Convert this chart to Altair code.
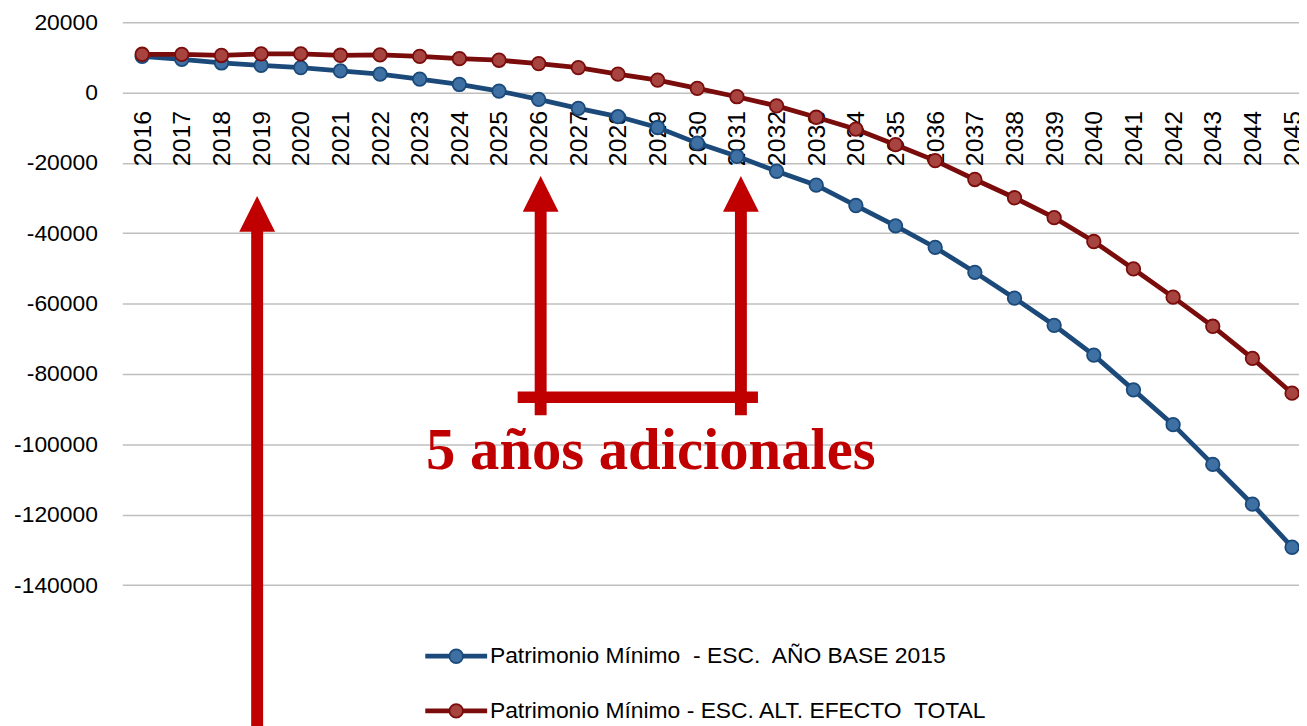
import altair as alt
import pandas as pd

# ---------------- data ----------------
years = list(range(2016, 2046))
base_2015 = [10250, 9400, 8400, 7700, 7100, 6160, 5220, 3810, 2290, 420,
             -1950, -4490, -6830, -9940, -14380, -18130, -22370, -26320, -32110, -37900,
             -44030, -51090, -58440, -66150, -74620, -84500, -94390, -105690, -116990, -129220]
alt_total = [10870, 10820, 10530, 10960, 10960, 10590, 10680, 10250, 9630, 9180,
             8220, 7090, 5220, 3530, 1160, -1190, -3810, -7030, -10420, -14830,
             -19350, -24710, -29910, -35560, -42340, -50140, -58150, -66430, -75550, -85440]
series_names = ["Patrimonio Mínimo\u00a0 - ESC.\u00a0 AÑO BASE 2015",
                "Patrimonio Mínimo - ESC. ALT. EFECTO\u00a0 TOTAL"]
line_colors = ["#1B4A7A", "#7A0C0C"]
marker_fills = ["#3E70A4", "#A8443F"]
y_ticks = [20000, 0, -20000, -40000, -60000, -80000, -100000, -120000, -140000]

W, H = 1184, 710
Y_MIN, Y_MAX = -180530, 20000

# annotation (arrows, bracket, text) in data units
arrow_x = [2018.9, 2026.05, 2031.1]
arrow_head = [-34460, -28810, -28810]
arrow_tail = [Y_MIN, -91700, -91700]
bracket_x = [2025.47]
bracket_x2 = [2031.53]
bracket_y = [-86600]
note_text = ["5 años adicionales"]
note_x = [2028.83]
note_y = [-107100]

# legend block placed inside the plot (data units)
legend_line_x = [2023.14]
legend_line_x2 = [2024.70]
legend_marker_x = [2023.92]
legend_text_x = [2024.77]
legend_row_y = [-160200, -175730]

ZERO_FROM_TOP = H * (Y_MAX - 0) / (Y_MAX - Y_MIN)
RED = "#C00000"
FONT = "Liberation Sans"

rows = []
for name, vals in zip(series_names, [base_2015, alt_total]):
    for yr, v in zip(years, vals):
        rows.append({"x": yr, "y": v, "series": name})
df = pd.DataFrame(rows)

arrows = pd.DataFrame({"x": arrow_x, "y": arrow_head, "y2": arrow_tail})
bracket = pd.DataFrame({"x": bracket_x, "x2": bracket_x2, "y": bracket_y})
note = pd.DataFrame({"x": note_x, "y": note_y, "t": note_text})
leg_lines = pd.DataFrame({"x": legend_line_x * 2, "x2": legend_line_x2 * 2,
                          "y": legend_row_y, "series": series_names})
leg_marks = pd.DataFrame({"x": legend_marker_x * 2, "y": legend_row_y, "series": series_names})
leg_text = pd.DataFrame({"x": legend_text_x * 2, "y": legend_row_y, "series": series_names})

xscale = alt.Scale(domain=[2015.499, 2045.175], nice=False, zero=False)
yscale = alt.Scale(domain=[Y_MIN, Y_MAX], nice=False, zero=False)

xaxis = alt.Axis(values=years, format="d", labelAngle=270, labelAlign="right",
                 labelBaseline="middle", labelPadding=18, labelFontSize=25,
                 labelFont=FONT, labelColor="#000000", ticks=False, domain=False,
                 grid=False, offset=-(H - ZERO_FROM_TOP), title=None,
                 labelOverlap=False, labelFlush=False, labelBound=False)
yaxis = alt.Axis(values=y_ticks, labelExpr="toString(datum.value)", labelFontSize=23,
                 labelFont=FONT, labelColor="#000000", labelPadding=25, ticks=False,
                 domain=False, grid=True, gridColor="#BFBFBF", gridWidth=1.5,
                 title=None, labelOverlap=False)

X = alt.X("x:Q", scale=xscale, axis=xaxis)
Y = alt.Y("y:Q", scale=yscale, axis=yaxis)
line_color = alt.Color("series:N", scale=alt.Scale(domain=series_names, range=line_colors),
                       legend=None)
mark_fill = alt.Fill("series:N", scale=alt.Scale(domain=series_names, range=marker_fills),
                     legend=None)
mark_stroke = alt.Stroke("series:N", scale=alt.Scale(domain=series_names, range=line_colors),
                         legend=None)

lines = alt.Chart(df).mark_line(strokeWidth=4.8).encode(
    x=X, y=Y, color=line_color, detail="series:N")

points = alt.Chart(df).mark_point(filled=True, size=185, strokeWidth=1.8, opacity=1).encode(
    x=X, y=Y, fill=mark_fill, stroke=mark_stroke)

stems = alt.Chart(arrows).mark_rule(color=RED, strokeWidth=12, strokeCap="butt").encode(
    x=X, y=Y, y2=alt.Y2("y2:Q"))

heads = alt.Chart(arrows).mark_point(shape="M0,-1L1,1L-1,1Z", filled=True, size=1296,
                                     color=RED, opacity=1, strokeWidth=0).encode(x=X, y=Y)

bar = alt.Chart(bracket).mark_rule(color=RED, strokeWidth=11.6, strokeCap="butt").encode(
    x=X, x2=alt.X2("x2:Q"), y=Y)

label = alt.Chart(note).mark_text(font="Liberation Serif", fontWeight="bold", fontSize=59,
                                  color=RED, align="center", baseline="alphabetic").encode(
    x=X, y=Y, text="t:N")

leg_rule = alt.Chart(leg_lines).mark_rule(strokeWidth=4.8, strokeCap="butt").encode(
    x=X, x2=alt.X2("x2:Q"), y=Y, color=line_color)

leg_pt = alt.Chart(leg_marks).mark_point(filled=True, size=185, strokeWidth=1.8,
                                         opacity=1).encode(
    x=X, y=Y, fill=mark_fill, stroke=mark_stroke)

leg_lbl = alt.Chart(leg_text).mark_text(font=FONT, fontSize=23, color="#000000",
                                        align="left", baseline="middle").encode(
    x=X, y=Y, text="series:N")

chart = alt.layer(lines, points, stems, heads, bar, label, leg_rule, leg_pt, leg_lbl).properties(
    width=W, height=H,
    autosize=alt.AutoSizeParams(type="none"),
    padding={"left": 115, "top": 12, "right": 0, "bottom": 0},
    background="white",
).configure_view(stroke=None)

chart.save("out.html", embed_options={"renderer": "svg", "actions": False})
